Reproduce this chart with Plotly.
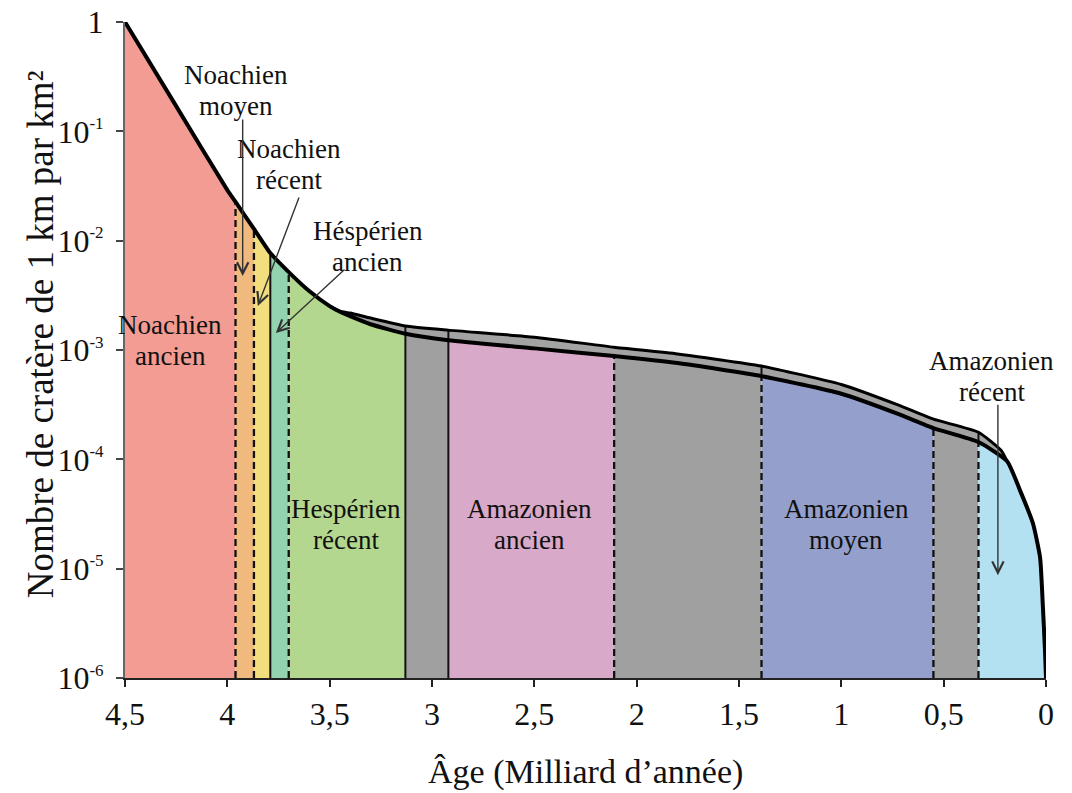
import numpy as np
import plotly.graph_objects as go

FONT = "Liberation Serif, Times New Roman, serif"

# Crater density curve N(D > 1 km) per km², lower envelope (age in Ga, descending)
ages_low = [4.5, 4.25, 4.0, 3.96, 3.87, 3.79, 3.70, 3.6, 3.5, 3.45, 3.4, 3.3, 3.13,
            2.92, 2.5, 2.11, 1.8, 1.39, 1.0, 0.72, 0.55, 0.33, 0.19, 0.127, 0.064,
            0.029, 0.015, 0.005, 0.0]
dens_low = [1.0, 0.17, 0.029, 0.0226, 0.0128, 0.0077, 0.00516, 0.00346, 0.00252,
            0.00224, 0.00204, 0.00172, 0.00141, 0.00123, 0.001035, 0.000881,
            0.000759, 0.000577, 0.000398, 0.000259, 0.000193, 0.000144, 9.6e-5,
            5.2e-5, 2.6e-5, 1.27e-5, 4.4e-6, 1.8e-6, 1e-6]

# Upper envelope, where the two chronology models diverge
ages_up = [3.5, 3.45, 3.4, 3.3, 3.13, 2.92, 2.5, 2.11, 1.8, 1.39, 1.0, 0.72, 0.55,
           0.33, 0.22, 0.19]
dens_up = [0.00252, 0.00226, 0.00218, 0.00196, 0.00166, 0.00152, 0.00131, 0.00106,
           0.00092, 0.000713, 0.000484, 0.000313, 0.000233, 0.000177, 0.000121, 9.6e-5]

# Period boundaries (Ga) and fill colours of each interval
edges = [4.5, 3.96, 3.87, 3.79, 3.70, 3.13, 2.92, 2.11, 1.39, 0.55, 0.33, 0.0]
colors = ["#F29C94", "#F0B97D", "#F2DE7F", "#93D3AF", "#B3D78E", "#A0A0A0",
          "#D9A9CA", "#A0A0A0", "#94A0CB", "#A0A0A0", "#B3E1F2"]

dashed_edges = [3.96, 3.87, 3.70, 2.11, 1.39, 0.55, 0.33]
solid_edges_low = [3.79]
solid_edges_up = [3.13, 2.92]
band_edges = [1.39, 0.33]

x_ticks = [4.5, 4.0, 3.5, 3.0, 2.5, 2.0, 1.5, 1.0, 0.5, 0.0]
x_ticktext = ["4,5", "4", "3,5", "3", "2,5", "2", "1,5", "1", "0,5", "0"]
y_ticks = [1e-6, 1e-5, 1e-4, 1e-3, 1e-2, 1e-1, 1]
y_exps = ["-6", "-5", "-4", "-3", "-2", "-1"]

# period names: (age, density, first line, second line)
period_labels = [
    (4.28, 10 ** -2.91, "Noachien", "ancien"),
    (3.42, 10 ** -4.59, "Hespérien", "récent"),
    (2.525, 10 ** -4.59, "Amazonien", "ancien"),
    (0.975, 10 ** -4.59, "Amazonien", "moyen"),
    (3.96, 10 ** -0.62, "Noachien", "moyen"),
    (3.70, 10 ** -1.30, "Noachien", "récent"),
    (3.315, 10 ** -2.05, "Héspérien", "ancien"),
    (0.265, 10 ** -3.24, "Amazonien", "récent"),
]

# pointer arrows: (tip age, tip density, tail age, tail density)
arrows = [
    (3.925, 10 ** -2.324, 3.925, 10 ** -0.878),
    (3.851, 10 ** -2.598, 3.647, 10 ** -1.592),
    (3.763, 10 ** -2.845, 3.42, 10 ** -2.25),
    (0.235, 10 ** -5.06, 0.235, 10 ** -3.486),
]

FLOOR = 1e-6


def low_at(a):
    return dens_low[ages_low.index(a)]


def up_at(a):
    return dens_up[ages_up.index(a)]


def seg_line(xs, ys, color, width, dash=None):
    return go.Scatter(x=xs, y=ys, mode="lines",
                      line=dict(color=color, width=width, dash=dash),
                      hoverinfo="skip", showlegend=False)


fig = go.Figure()

# coloured period areas under the lower envelope
for i, col in enumerate(colors):
    a, b = edges[i], edges[i + 1]
    seg = [(x, y) for x, y in zip(ages_low, dens_low) if b <= x <= a]
    xs = [a] + [p[0] for p in seg] + [b]
    ys = [FLOOR] + [p[1] for p in seg] + [FLOOR]
    fig.add_trace(go.Scatter(x=xs, y=ys, mode="lines", fill="toself",
                             fillcolor=col, line=dict(width=0), hoverinfo="skip",
                             showlegend=False))

# grey uncertainty band between the two envelopes
lo_seg = [(x, y) for x, y in zip(ages_low, dens_low) if 0.19 <= x <= 3.5]
band_x = ages_up + [p[0] for p in lo_seg][::-1]
band_y = dens_up + [p[1] for p in lo_seg][::-1]
fig.add_trace(go.Scatter(x=band_x, y=band_y, mode="lines", fill="toself",
                         fillcolor="#A3A3A3", line=dict(width=0), hoverinfo="skip",
                         showlegend=False))

# boundary lines
for a in dashed_edges:
    fig.add_trace(seg_line([a, a], [FLOOR, low_at(a)], "#111", 2.3, "7px,4px"))
for a in solid_edges_low:
    fig.add_trace(seg_line([a, a], [FLOOR, low_at(a)], "#111", 2))
for a in solid_edges_up:
    fig.add_trace(seg_line([a, a], [FLOOR, up_at(a)], "#111", 2))
for a in band_edges:
    fig.add_trace(seg_line([a, a], [low_at(a), up_at(a)], "#111", 2))

# envelope curves
fig.add_trace(go.Scatter(x=ages_up, y=dens_up, mode="lines",
                         line=dict(color="black", width=3, shape="spline",
                                   smoothing=0.5),
                         hoverinfo="skip", showlegend=False))
fig.add_trace(go.Scatter(x=ages_low, y=dens_low, mode="lines",
                         line=dict(color="black", width=4, shape="spline",
                                   smoothing=0.5),
                         hoverinfo="skip", showlegend=False))

L = np.log10
label_font = dict(family=FONT, size=27, color="#111")

annotations = []
for x, y, t1, t2 in period_labels:
    for t, shift in ((t1, 15), (t2, -16)):
        annotations.append(dict(x=x, y=L(y), xref="x", yref="y", text=t,
                                yshift=shift, showarrow=False, font=label_font,
                                xanchor="center", yanchor="middle"))

for tx, ty, sx, sy in arrows:
    annotations.append(dict(x=tx, y=L(ty), ax=sx, ay=L(sy), xref="x", yref="y",
                            axref="x", ayref="y", text="", showarrow=True,
                            arrowhead=5, arrowsize=1.6, arrowwidth=1.4,
                            arrowcolor="#333", standoff=0, startstandoff=0))

# axis titles
annotations.append(dict(x=0.5, y=-0.1433, xref="paper", yref="paper",
                        xanchor="center", yanchor="middle",
                        text="Âge (Milliard d’année)", showarrow=False,
                        font=dict(family=FONT, size=34, color="#111")))
annotations.append(dict(x=-0.0923, y=0.524, xref="paper", yref="paper",
                        xanchor="center", yanchor="middle",
                        text="Nombre de cratère de 1 km par km²", showarrow=False,
                        textangle=-90,
                        font=dict(family=FONT, size=37, color="#111")))

y_ticktext = [f"10<sup><span style='font-size:17px'>{e}</span></sup>"
              for e in y_exps] + ["1"]

fig.update_layout(
    width=1072, height=793,
    margin=dict(l=125, r=26, t=22, b=115, autoexpand=False),
    paper_bgcolor="white", plot_bgcolor="white",
    annotations=annotations,
    xaxis=dict(range=[4.5, 0], tickvals=x_ticks, ticktext=x_ticktext,
               showline=True, linecolor="#222", linewidth=2, ticks="outside",
               ticklen=7, tickwidth=2, tickcolor="#222", showgrid=False,
               zeroline=False, automargin=False,
               tickfont=dict(family=FONT, size=32, color="#111")),
    yaxis=dict(type="log", range=[-6, 0], tickvals=y_ticks, ticktext=y_ticktext,
               showline=True, linecolor="#666", linewidth=2, ticks="outside",
               ticklen=7, tickwidth=2, tickcolor="#444", showgrid=False,
               zeroline=False, ticklabelstandoff=6, automargin=False,
               tickfont=dict(family=FONT, size=32, color="#111")),
)

fig.write_html("out.html")
